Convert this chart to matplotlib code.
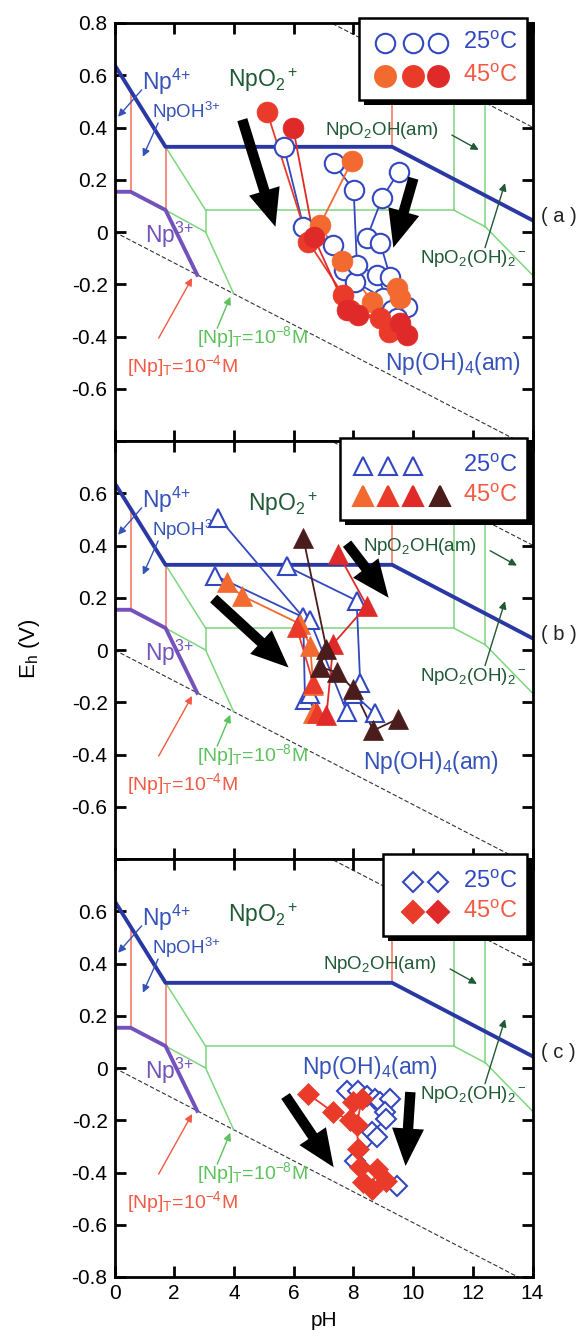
import matplotlib
matplotlib.use("Agg")
import matplotlib.pyplot as plt
from matplotlib.patches import Rectangle, FancyArrowPatch

plt.rcParams['font.family'] = ['Liberation Sans', 'DejaVu Sans']
plt.rcParams['mathtext.fontset'] = 'custom'
plt.rcParams['mathtext.rm'] = 'Liberation Sans'
plt.rcParams['mathtext.it'] = 'Liberation Sans:italic'
plt.rcParams['mathtext.bf'] = 'Liberation Sans:bold'
plt.rcParams['axes.unicode_minus'] = False

# ---------------- Eh-pH diagram of neptunium ----------------
# Np(IV)/Np(V) boundary (thick blue)
NP4_NP5_PH = [0.0, 1.71, 9.3, 14.0]
NP4_NP5_EH = [0.64, 0.326, 0.326, 0.045]
# Np(III)/Np(IV) boundary (thick purple)
NP3_NP4_PH = [0.0, 0.54, 1.71, 2.77]
NP3_NP4_EH = [0.154, 0.154, 0.084, -0.164]
# [Np]T = 1e-4 M boundaries (thin red)
RED_SEGS = [
    ([0.54, 0.54], [0.154, 0.54]),
    ([1.71, 1.71], [0.084, 0.326]),
    ([9.3, 9.3], [0.326, 0.68]),
]
# [Np]T = 1e-8 M boundaries (thin green)
GREEN_SEGS = [
    ([1.71, 3.05], [0.326, 0.084]),
    ([3.05, 11.36], [0.084, 0.084]),
    ([3.05, 3.05], [0.084, 0.0]),
    ([1.71, 3.05], [0.084, 0.0]),
    ([3.05, 3.99], [0.0, -0.236]),
    ([11.36, 11.36], [0.084, 0.557]),
    ([11.36, 12.42], [0.084, 0.02]),
    ([12.42, 12.42], [0.02, 0.495]),
    ([12.42, 14.0], [0.02, -0.165]),
]
# water stability limits
WATER_PH = [0.0, 14.0]
H2_EH = [0.0, -0.0592 * 14.0]
O2_EH = [1.23, 1.23 - 0.0592 * 14.0]

# ---------------- (a) circles ----------------
A_25_1_PH = [5.67, 6.33, 7.33, 7.67, 8.05, 9.0, 9.8]
A_25_1_EH = [0.327, 0.02, -0.05, -0.145, -0.19, -0.253, -0.286]
A_25_2_PH = [7.34, 8.01, 8.12, 8.79, 9.3]
A_25_2_EH = [0.263, 0.161, -0.126, -0.165, -0.30]
A_25_3_PH = [9.52, 8.96, 8.45, 8.9, 9.23, 9.45]
A_25_3_EH = [0.231, 0.129, -0.023, -0.042, -0.171, -0.33]
A_45_1_PH = [5.11, 6.49, 7.66, 7.89, 8.9, 9.19]
A_45_1_EH = [0.46, -0.037, -0.241, -0.299, -0.329, -0.382]
A_45_2_PH = [5.98, 6.67, 7.78, 8.17, 9.57, 9.8]
A_45_2_EH = [0.40, -0.018, -0.299, -0.318, -0.348, -0.394]
A_45_3_PH = [7.96, 6.88, 7.62, 8.63, 9.45, 9.56]
A_45_3_EH = [0.273, 0.027, -0.11, -0.267, -0.215, -0.253]

# ---------------- (b) triangles ----------------
B_25_1_PH = [3.48, 6.32, 6.38, 6.55]
B_25_1_EH = [0.507, 0.125, -0.193, -0.167]
B_25_2_PH = [3.37, 6.55, 7.78]
B_25_2_EH = [0.285, 0.113, -0.237]
B_25_3_PH = [5.77, 8.11, 8.23, 8.0, 8.72]
B_25_3_EH = [0.32, 0.189, -0.128, -0.167, -0.243]
B_45_1_PH = [3.76, 4.26, 6.21, 6.55, 6.66, 6.66]
B_45_1_EH = [0.259, 0.208, 0.10, 0.017, -0.135, -0.243]
B_45_2_PH = [7.5, 8.45, 7.33, 7.1]
B_45_2_EH = [0.367, 0.17, 0.024, -0.25]
B_45_3_PH = [6.1, 6.66, 6.77]
B_45_3_EH = [0.087, -0.128, -0.243]
B_45_4_PH = [6.32, 7.1, 6.88, 7.44, 8.0, 8.67, 9.5]
B_45_4_EH = [0.43, 0.005, -0.065, -0.085, -0.149, -0.308, -0.263]

# ---------------- (c) diamonds ----------------
C_25_PH = [7.78, 8.17, 8.45, 8.72, 8.89, 9.23, 9.06, 9.11, 8.61, 8.78, 8.05,
           9.45]
C_25_EH = [-0.087, -0.087, -0.106, -0.12, -0.132, -0.12, -0.17, -0.195,
           -0.246, -0.265, -0.355, -0.45]
C_45_PH = [6.49, 7.33, 7.89, 8.0, 8.28, 8.11, 8.17, 8.22, 8.33, 8.61, 8.78,
           9.11]
C_45_EH = [-0.1, -0.17, -0.2, -0.132, -0.12, -0.22, -0.31, -0.38, -0.438,
           -0.463, -0.386, -0.431]

BLUE = '#2a38a4'
TXT_BLUE = '#3552b8'
PURPLE = '#7452bc'
RED_LINE = '#f4705c'
GREEN_LINE = '#7ed67e'
DKGREEN = '#1f5a34'
TXT_RED = '#f25a44'
TXT_GREEN = '#5cc25c'
C_BLUE = '#3348c0'
C_ORANGE = '#f26a30'
C_RED = '#ea3a2a'
C_RED2 = '#e02a2a'
C_BROWN = '#4a1c1c'

fig = plt.figure(figsize=(5.88, 13.38), dpi=100)
L, W, H = 114.5 / 588, 418 / 588, 418 / 1338
axa = fig.add_axes([L, 1 - 441 / 1338, W, H])
axb = fig.add_axes([L, 1 - 859 / 1338, W, H])
axc = fig.add_axes([L, 1 - 1277 / 1338, W, H])


def diagram(ax, npo2_xy, npo2oh_xy, npoh4_xy):
    ax.plot(WATER_PH, H2_EH, color='#333333', lw=0.8, ls=(0, (4, 2)), zorder=1)
    ax.plot(WATER_PH, O2_EH, color='#333333', lw=0.8, ls=(0, (4, 2)), zorder=1)
    for xs, ys in GREEN_SEGS:
        ax.plot(xs, ys, color=GREEN_LINE, lw=1.1, zorder=1.5)
    for xs, ys in RED_SEGS:
        ax.plot(xs, ys, color=RED_LINE, lw=1.1, zorder=1.6)
    ax.plot(NP3_NP4_PH, NP3_NP4_EH, color=PURPLE, lw=2.8, zorder=2,
            solid_joinstyle='round')
    ax.plot(NP4_NP5_PH, NP4_NP5_EH, color=BLUE, lw=2.8, zorder=2,
            solid_joinstyle='round')

    def lead(xy, xytext, color):
        ax.annotate('', xy=xy, xytext=xytext,
                    arrowprops=dict(arrowstyle='-|>', color=color, lw=1.0,
                                    mutation_scale=11, shrinkA=0, shrinkB=0),
                    zorder=3)

    ax.text(0.91, 0.543, 'Np$^{4\\!+}$', color=TXT_BLUE, fontsize=16.5)
    lead((0.12, 0.441), (0.91, 0.544), TXT_BLUE)
    ax.text(1.25, 0.435, 'NpOH$^{3\\!+}$', color=TXT_BLUE, fontsize=13.5)
    lead((0.95, 0.288), (1.46, 0.417), TXT_BLUE)
    ax.text(npo2_xy[0], npo2_xy[1], 'NpO$_2$$^+$', color=DKGREEN, fontsize=16.5)
    ax.text(npo2oh_xy[0], npo2oh_xy[1], 'NpO$_2$OH(am)', color=DKGREEN,
            fontsize=13.5)
    lead((npo2oh_xy[0] + 5.15, npo2oh_xy[1] - 0.057),
         (npo2oh_xy[0] + 4.25, npo2oh_xy[1] + 0.0), DKGREEN)
    ax.text(10.23, -0.12, 'NpO$_2$(OH)$_2$$^-$', color=DKGREEN, fontsize=13.5)
    lead((13.08, 0.187), (12.41, -0.06), DKGREEN)
    ax.text(1.02, -0.043, 'Np$^{3\\!+}$', color=PURPLE, fontsize=16.5)
    ax.text(0.41, -0.535, '[Np]$_{\\rm T}$=10$^{-4}$M', color=TXT_RED,
            fontsize=14)
    lead((2.6, -0.176), (1.48, -0.406), TXT_RED)
    ax.text(2.75, -0.426, '[Np]$_{\\rm T}$=10$^{-8}$M', color=TXT_GREEN,
            fontsize=14)
    lead((3.88, -0.248), (3.44, -0.368), TXT_GREEN)
    ax.text(npoh4_xy[0], npoh4_xy[1], 'Np(OH)$_4$(am)', color=TXT_BLUE,
            fontsize=16.5, zorder=3)


def frame(ax, hide, letter, xlabels=False):
    ax.set_xlim(0, 14)
    ax.set_ylim(-0.8, 0.8)
    ax.set_xticks(range(0, 15, 2))
    ticks = [round(-0.8 + 0.2 * i, 1) for i in range(9)]
    ax.set_yticks(ticks)
    ax.set_yticklabels(['' if t in hide else ('0' if t == 0 else '%.1f' % t)
                        for t in ticks])
    ax.tick_params(direction='in', length=8, width=2, top=True, right=True,
                   labelsize=15, pad=5)
    if not xlabels:
        ax.set_xticklabels([])
    for s in ax.spines.values():
        s.set_linewidth(2)
    ax.text(14.3, 0.06, '( ' + letter + ' )', fontsize=14.5, color='#222222',
            va='center', ha='left', clip_on=False)


def legend(ax, x0, y0, x1, y1, rows):
    ax.add_patch(Rectangle((x0 + 0.012, y0 - 0.012), x1 - x0, y1 - y0,
                           transform=ax.transAxes, facecolor='black',
                           edgecolor='none', clip_on=False, zorder=20))
    ax.add_patch(Rectangle((x0, y0), x1 - x0, y1 - y0, transform=ax.transAxes,
                           facecolor='white', edgecolor='black', lw=1.8,
                           clip_on=False, zorder=21))
    for y, label, tcolor, items in rows:
        for x, marker, ms, fc, ec in items:
            ax.plot([x], [y], marker=marker, ms=ms, mfc=fc, mec=ec, mew=1.5,
                    transform=ax.transAxes, clip_on=False, zorder=22,
                    ls='none')
        ax.text(0.834, y, label, color=tcolor, fontsize=17, va='center',
                transform=ax.transAxes, zorder=22)


def big_arrow(ax, start, end):
    ax.add_patch(FancyArrowPatch(start, end,
                                 arrowstyle='simple,head_width=2.3,head_length=2.7,tail_width=0.75',
                                 mutation_scale=10, color='black', lw=0,
                                 shrinkA=0, shrinkB=0, zorder=6))


def series(ax, xs, ys, marker, ms, color, open_marker):
    ax.plot(xs, ys, color=color, lw=1.3, zorder=4)
    if open_marker:
        ax.plot(xs, ys, ls='none', marker=marker, ms=ms, mfc='white', mec=color,
                mew=1.5, zorder=5)
    else:
        ax.plot(xs, ys, ls='none', marker=marker, ms=ms, mfc=color, mec=color,
                mew=0.5, zorder=5.5)


T25 = '25$^{\\rm o}$C'
T45 = '45$^{\\rm o}$C'

# ----- panel (a)
diagram(axa, (3.81, 0.556), (7.05, 0.371), (9.06, -0.528))
series(axa, A_25_1_PH, A_25_1_EH, 'o', 14, C_BLUE, True)
series(axa, A_25_2_PH, A_25_2_EH, 'o', 14, C_BLUE, True)
series(axa, A_25_3_PH, A_25_3_EH, 'o', 14, C_BLUE, True)
series(axa, A_45_3_PH, A_45_3_EH, 'o', 15, C_ORANGE, False)
series(axa, A_45_1_PH, A_45_1_EH, 'o', 15, C_RED, False)
series(axa, A_45_2_PH, A_45_2_EH, 'o', 15, C_RED2, False)
big_arrow(axa, (4.28, 0.43), (5.39, 0.02))
big_arrow(axa, (10.01, 0.206), (9.34, -0.06))
frame(axa, [-0.8], 'a')
legend(axa, 0.585, 0.815, 0.988, 1.012, [
    (0.952, T25, C_BLUE, [(0.647, 'o', 14, 'white', C_BLUE),
                           (0.714, 'o', 14, 'white', C_BLUE),
                           (0.774, 'o', 14, 'white', C_BLUE)]),
    (0.873, T45, TXT_RED, [(0.647, 'o', 15, C_ORANGE, C_ORANGE),
                            (0.714, 'o', 15, C_RED, C_RED),
                            (0.774, 'o', 15, C_RED2, C_RED2)]),
])

# ----- panel (b)
diagram(axb, (4.48, 0.533), (8.33, 0.38), (8.33, -0.454))
series(axb, B_25_1_PH, B_25_1_EH, '^', 13, C_BLUE, True)
series(axb, B_25_2_PH, B_25_2_EH, '^', 13, C_BLUE, True)
series(axb, B_25_3_PH, B_25_3_EH, '^', 13, C_BLUE, True)
series(axb, B_45_1_PH, B_45_1_EH, '^', 14, C_ORANGE, False)
series(axb, B_45_3_PH, B_45_3_EH, '^', 14, C_RED, False)
series(axb, B_45_2_PH, B_45_2_EH, '^', 14, C_RED2, False)
series(axb, B_45_4_PH, B_45_4_EH, '^', 14, C_BROWN, False)
big_arrow(axb, (3.32, 0.197), (5.83, -0.067))
big_arrow(axb, (7.79, 0.407), (9.18, 0.2))
frame(axb, [-0.8, 0.8], 'b')
legend(axb, 0.54, 0.812, 0.988, 1.007, [
    (0.940, T25, C_BLUE, [(0.594, '^', 13, 'white', C_BLUE),
                           (0.654, '^', 13, 'white', C_BLUE),
                           (0.714, '^', 13, 'white', C_BLUE)]),
    (0.869, T45, TXT_RED, [(0.594, '^', 14, C_ORANGE, C_ORANGE),
                            (0.654, '^', 14, C_RED, C_RED),
                            (0.714, '^', 14, C_RED2, C_RED2),
                            (0.779, '^', 14, C_BROWN, C_BROWN)]),
])

# ----- panel (c)
diagram(axc, (3.81, 0.56), (6.99, 0.379), (6.27, -0.023))
series(axc, C_25_PH, C_25_EH, 'D', 10.5, C_BLUE, True)
series(axc, C_45_PH, C_45_EH, 'D', 11, C_RED, False)
big_arrow(axc, (5.73, -0.107), (7.34, -0.38))
big_arrow(axc, (9.91, -0.092), (9.75, -0.375))
frame(axc, [0.8], 'c', xlabels=True)
axc.set_xticklabels([str(v) for v in range(0, 15, 2)])
legend(axc, 0.642, 0.816, 0.988, 1.012, [
    (0.945, T25, C_BLUE, [(0.714, 'D', 10.5, 'white', C_BLUE),
                           (0.774, 'D', 10.5, 'white', C_BLUE)]),
    (0.873, T45, TXT_RED, [(0.714, 'D', 11, C_RED, C_RED),
                            (0.774, 'D', 11, C_RED2, C_RED2)]),
])
axc.set_xlabel('pH', fontsize=15, labelpad=6)
fig.text(0.05, 0.515, 'E$_{\\rm h}$ (V)', rotation=90, fontsize=16,
         va='center', ha='center')

fig.savefig('out.png', dpi=100)
